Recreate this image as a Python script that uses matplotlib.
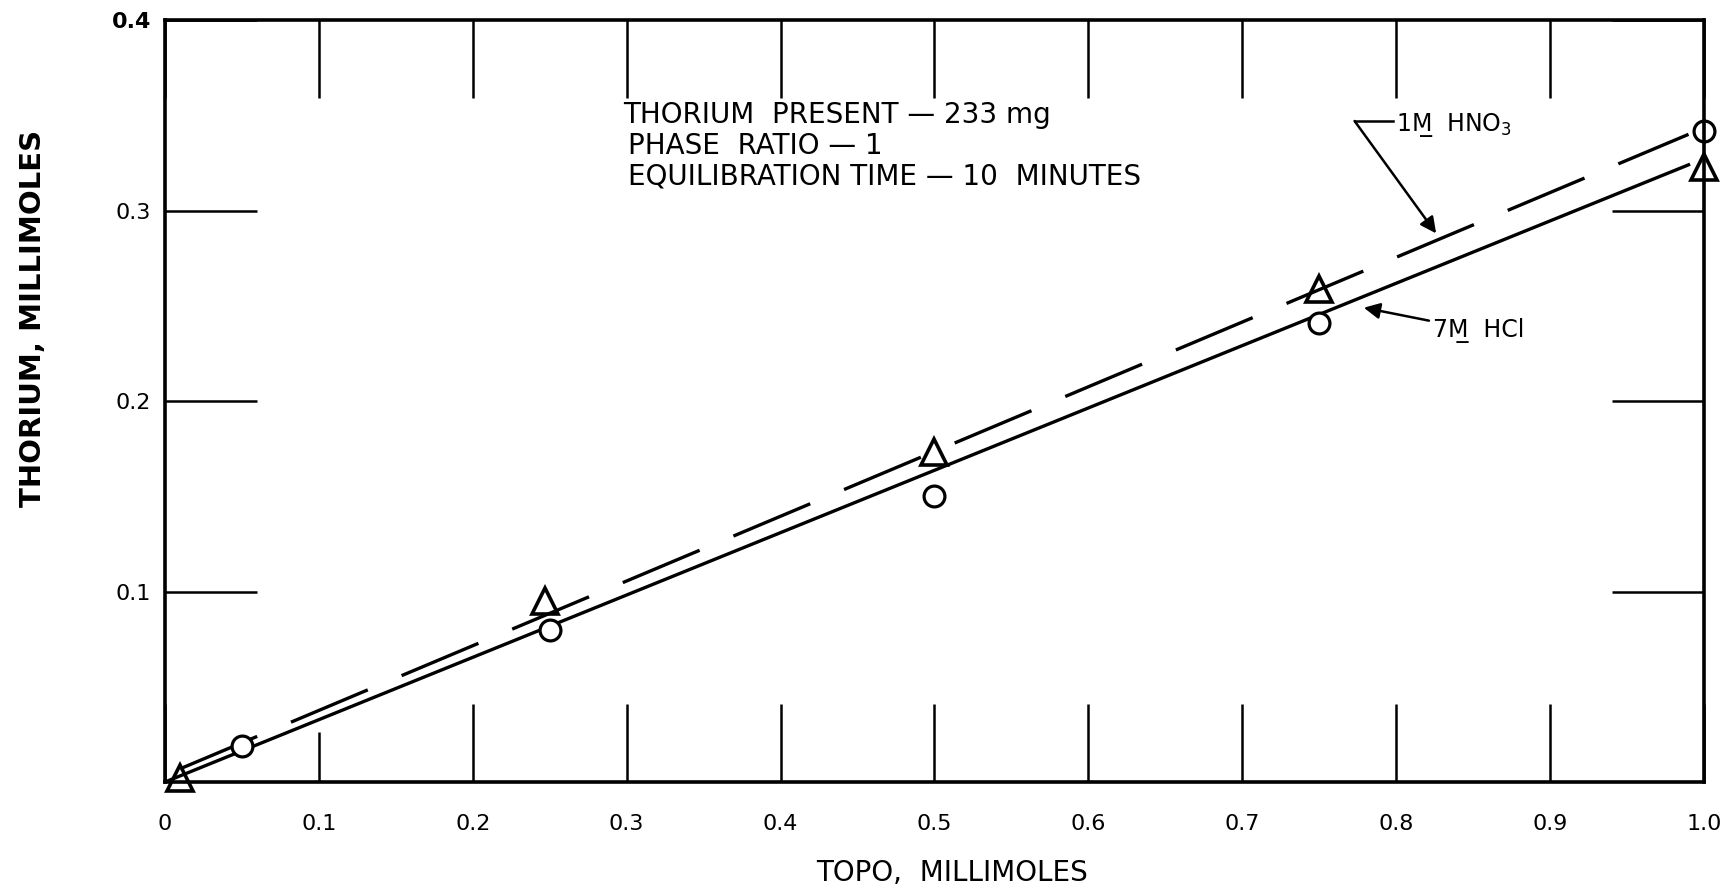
import matplotlib.pyplot as plt

# экспериментальные точки
hcl_x = [0.05, 0.25, 0.50, 0.75, 1.00]
hcl_y = [0.019, 0.080, 0.150, 0.241, 0.342]
hno3_x = [0.01, 0.247, 0.50, 0.75, 1.00]
hno3_y = [0.002, 0.095, 0.173, 0.259, 0.323]

# проведённые прямые
hcl_line_x = [0.0, 0.99]
hcl_line_y = [0.0, 0.324]
hno3_line_x = [0.01, 0.99]
hno3_line_y = [0.007, 0.340]

x_ticks = [0, 0.1, 0.2, 0.3, 0.4, 0.5, 0.6, 0.7, 0.8, 0.9, 1.0]
x_labels = ["0", "0.1", "0.2", "0.3", "0.4", "0.5", "0.6", "0.7", "0.8", "0.9", "1.0"]
y_ticks = [0.1, 0.2, 0.3, 0.4]
y_labels = ["0.1", "0.2", "0.3", "0.4"]

notes = ["THORIUM  PRESENT — 233 mg",
         "PHASE  RATIO — 1",
         "EQUILIBRATION TIME — 10  MINUTES"]

plt.rcParams['font.family'] = ['DejaVu Sans']

fig = plt.figure(figsize=(17.22, 8.91), dpi=100)
ax = fig.add_axes([0.0958, 0.1223, 0.8937, 0.8552])

ax.plot(hcl_line_x, hcl_line_y, color='black', lw=2.4)
ax.plot(hno3_line_x, hno3_line_y, color='black', lw=2.4, dashes=(25, 11))

ax.plot(hcl_x, hcl_y, 'o', ms=15, mfc='white', mec='black', mew=2.3, ls='none', clip_on=False)
ax.plot(hno3_x, hno3_y, '^', ms=19, mfc='none', mec='black', mew=2.6, ls='none', clip_on=False)

ax.set_xlim(0, 1.0)
ax.set_ylim(0, 0.4)
ax.set_xticks(x_ticks)
ax.set_xticklabels(x_labels, fontsize=16)
ax.set_yticks(y_ticks)
ax.set_yticklabels(y_labels, fontsize=16)
ax.get_yticklabels()[-1].set_fontweight('bold')

ax.tick_params(axis='x', direction='in', length=56, width=1.8, top=True, bottom=True, pad=23)
ax.tick_params(axis='y', direction='in', length=66, width=1.8, left=True, right=True, pad=10)
ax.xaxis.get_major_ticks()[1].tick1line.set_markersize(36)
for sp in ax.spines.values():
    sp.set_linewidth(2.6)

# условия опыта
for i, line in enumerate(notes):
    ax.text(0.298 + (0.003 if i else 0), 0.350 - i * 0.0161, line,
            fontsize=20, va='center', ha='left')

# подписи к прямым
ax.text(0.800, 0.345, "1M\u0332  HNO$_3$", fontsize=17, va='center', ha='left')
ax.plot([0.773, 0.798], [0.347, 0.347], color='black', lw=1.8)
ax.annotate("", xy=(0.826, 0.288), xytext=(0.773, 0.347),
            arrowprops=dict(arrowstyle='-|>', color='black', lw=1.8, mutation_scale=24,
                            shrinkA=0, shrinkB=0))

ax.annotate("7M\u0332  HCl", xy=(0.779, 0.249), xytext=(0.824, 0.237),
            fontsize=17, va='center', ha='left',
            arrowprops=dict(arrowstyle='-|>', color='black', lw=1.8, mutation_scale=24,
                            shrinkA=1, shrinkB=0))

fig.text(0.019, 0.643, "THORIUM, MILLIMOLES", rotation=90, fontsize=21,
         fontweight='bold', ha='center', va='center')
fig.text(0.553, 0.020, "TOPO,  MILLIMOLES", fontsize=20, ha='center', va='center')

fig.savefig('out.png', dpi=100)
